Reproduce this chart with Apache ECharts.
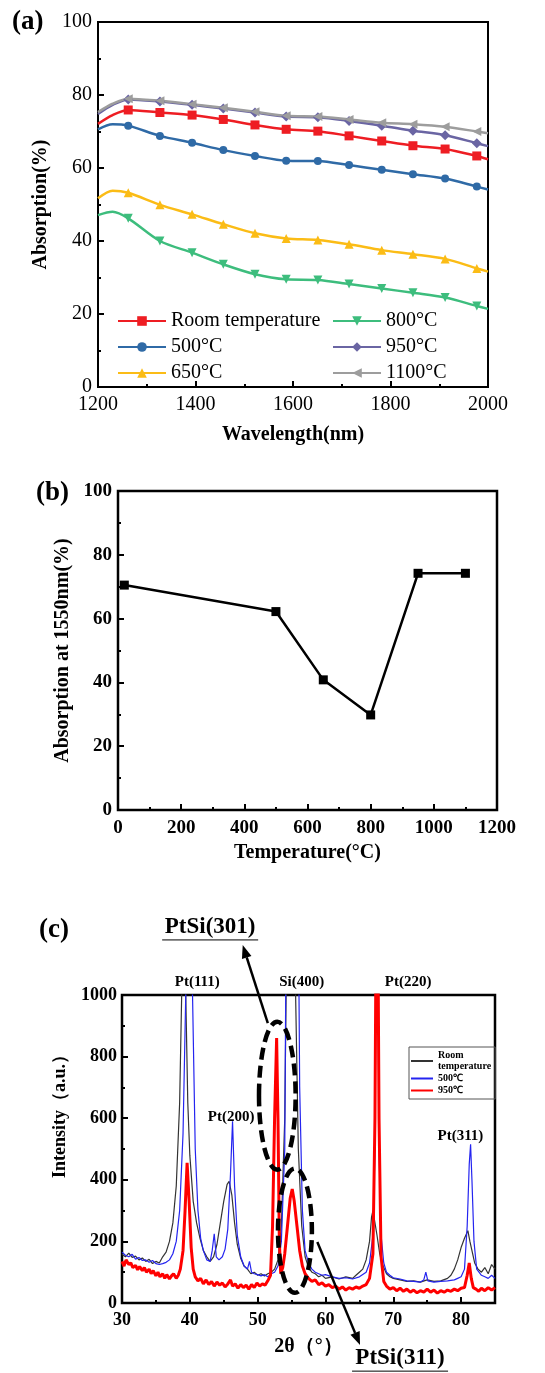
<!DOCTYPE html>
<html>
<head>
<meta charset="utf-8">
<script src="https://cdn.jsdelivr.net/npm/echarts@6/dist/echarts.min.js"></script>
<style>
  html, body { margin: 0; padding: 0; background: #fff; }
  #chart { width: 545px; height: 1373px; }
</style>
</head>
<body>
<div id="chart"></div>
<script>
// (a) absorption spectra
const wavelengths = [1200, 1230, 1262, 1327, 1393, 1457, 1522, 1586, 1651, 1715, 1782, 1846, 1912, 1977, 2000];
const unmarkedWavelengths = [1200, 1230, 2000];
const absRoom = [72.1, 74.5, 75.9, 75.2, 74.5, 73.3, 71.8, 70.6, 70.1, 68.8, 67.4, 66.1, 65.2, 63.3, 62.4];
const abs500 = [70.6, 72.0, 71.6, 68.8, 66.9, 64.9, 63.3, 62.0, 61.9, 60.8, 59.5, 58.3, 57.1, 54.9, 54.1];
const abs650 = [51.7, 53.8, 53.2, 49.9, 47.3, 44.6, 42.1, 40.7, 40.3, 39.1, 37.5, 36.4, 35.1, 32.5, 31.6];
const abs800 = [47.1, 48.0, 46.2, 40.0, 36.8, 33.6, 30.9, 29.5, 29.3, 28.2, 27.0, 25.8, 24.5, 22.2, 21.4];
const abs950 = [74.8, 77.3, 78.8, 78.2, 77.3, 76.3, 75.2, 74.1, 73.9, 72.9, 71.6, 70.2, 69.0, 66.8, 66.0];
const abs1100 = [75.3, 77.6, 79.0, 78.4, 77.5, 76.5, 75.4, 74.3, 74.1, 73.3, 72.4, 72.0, 71.3, 70.0, 69.5];

// (b) absorption at 1550 nm vs annealing temperature
const anneal = [20, 500, 650, 800, 950, 1100];
const abs1550 = [70.5, 62.2, 40.8, 29.8, 74.2, 74.2];

// (c) XRD, [2theta, intensity]
const xrdRoom = [
  [30,158],[30.5,150],[31,162],[31.5,148],[32,152],[32.5,140],[33,146],[33.5,135],[34,142],[34.5,128],
  [35,135],[35.5,130],[36,150],[36.5,165],[37,200],[37.5,260],[38,380],[38.5,650],[38.8,1000],[39.1,1600],
  [39.4,1000],[39.7,650],[40,480],[40.5,330],[41,260],[41.5,210],[42,170],[42.5,150],[43,135],[43.5,150],
  [44,190],[44.5,260],[45,330],[45.5,385],[45.8,395],[46.2,350],[46.6,260],[47,190],[47.5,145],[48,120],
  [48.5,110],[49,95],[49.5,100],[50,90],[50.5,95],[51,88],[51.5,95],[52,100],[52.5,110],[53,140],
  [53.5,250],[54,600],[54.6,1800],[55.2,1800],[55.6,1000],[56,500],[56.5,250],[57,150],[57.5,115],[58,100],
  [58.5,95],[59,85],[59.5,90],[60,80],[61,85],[62,78],[63,85],[64,80],[64.5,90],[65,100],
  [65.5,110],[66,140],[66.5,200],[66.8,280],[67,300],[67.3,260],[67.6,220],[68,160],[68.5,120],[69,95],
  [69.5,85],[70,80],[71,75],[72,70],[73,72],[74,68],[75,75],[76,70],[77,72],[78,80],
  [78.5,90],[79,110],[79.5,140],[80,180],[80.5,210],[81,235],[81.3,200],[81.7,160],[82,130],[82.5,110],
  [83,100],[83.5,115],[84,95],[84.5,125],[85,110]
];
const xrd500 = [
  [30,165],[30.5,155],[31,150],[31.5,158],[32,142],[32.5,148],[33,138],[33.5,140],[34,132],[34.5,138],
  [35,128],[35.5,125],[36,128],[36.5,132],[37,140],[37.5,160],[38,200],[38.5,300],[39,550],[39.4,1000],
  [39.9,1700],[40.4,1000],[40.8,500],[41.2,300],[41.6,210],[42,170],[42.5,140],[43,135],[43.3,170],[43.6,225],
  [43.9,150],[44.3,140],[44.8,150],[45.2,175],[45.6,240],[46,420],[46.3,590],[46.6,380],[47,220],[47.5,150],
  [48,120],[48.5,110],[48.8,135],[49.1,100],[49.5,95],[50,92],[50.5,88],[51,92],[51.5,85],[52,95],
  [52.5,100],[53,120],[53.5,200],[54,500],[54.3,1600],[55.9,1600],[56.2,700],[56.6,300],[57,170],[57.5,130],
  [58,110],[58.5,100],[59,95],[59.5,90],[60,92],[61,85],[62,80],[63,82],[64,78],[65,85],
  [66,100],[66.5,130],[67,220],[67.3,500],[67.6,1600],[67.9,500],[68.2,220],[68.6,130],[69,100],[69.5,90],
  [70,82],[71,78],[72,72],[73,70],[74,68],[74.5,75],[74.8,100],[75.1,72],[76,68],[77,70],
  [78,72],[79,75],[79.5,80],[80,85],[80.5,110],[80.9,250],[81.2,450],[81.4,515],[81.6,400],[81.9,200],
  [82.3,110],[83,90],[83.5,85],[84,80],[84.5,90],[85,80]
];
const xrd950 = [
  [30,135],[30.3,120],[30.6,140],[31,125],[31.3,130],[31.6,115],[32,122],[32.3,108],[32.6,118],[33,105],
  [33.3,115],[33.6,100],[34,110],[34.3,95],[34.6,105],[35,88],[35.3,100],[35.6,85],[36,95],[36.3,80],
  [36.6,92],[37,78],[37.3,88],[37.6,95],[38,80],[38.3,90],[38.6,110],[39,170],[39.3,300],[39.6,455],
  [39.9,330],[40.2,180],[40.5,110],[40.8,85],[41.2,72],[41.6,80],[42,62],[42.4,75],[42.8,60],[43.2,70],
  [43.6,55],[44,68],[44.4,58],[44.8,65],[45.2,52],[45.6,62],[46,75],[46.3,55],[46.7,62],[47.1,48],
  [47.5,60],[47.9,50],[48.3,58],[48.7,45],[49.1,60],[49.5,50],[49.9,65],[50.3,55],[50.7,62],[51.1,58],
  [51.5,72],[51.9,90],[52.2,250],[52.5,600],[52.8,860],[53,600],[53.2,200],[53.4,95],[53.7,115],[54,160],
  [54.4,250],[54.8,340],[55.1,370],[55.4,330],[55.8,250],[56.2,170],[56.6,120],[57,95],[57.5,80],[58,70],
  [58.5,75],[59,60],[59.5,65],[60,55],[60.5,60],[61,50],[61.5,55],[62,45],[62.5,52],[63,42],
  [63.5,50],[64,45],[64.5,52],[65,48],[65.5,55],[66,60],[66.5,80],[67,160],[67.3,600],[67.6,1700],
  [67.9,600],[68.2,150],[68.6,70],[69,55],[69.5,45],[70,50],[70.5,40],[71,48],[71.5,38],[72,45],
  [72.5,35],[73,42],[73.5,33],[74,40],[74.5,35],[75,45],[75.5,35],[76,42],[76.5,32],[77,40],
  [77.5,35],[78,42],[78.5,38],[79,45],[79.5,40],[80,48],[80.5,50],[80.9,90],[81.2,130],[81.5,80],
  [81.8,50],[82.2,45],[82.6,38],[83,48],[83.5,40],[84,50],[84.5,42],[85,50]
];

// (c) annotations, in data coordinates
const peakLabels = [
  ["Pt(111)", 41.1, 1042], ["Si(400)", 56.5, 1042], ["Pt(220)", 72.2, 1042],
  ["Pt(200)", 46.1, 605], ["Pt(311)", 79.9, 541]
];
const phaseLabels = [["PtSi(301)", 43.0, 1221], ["PtSi(311)", 71.0, -179]];
const phaseEllipses = [[52.9, 673, 2.7, 240], [55.5, 235, 2.5, 202]];
const phaseArrows = [[[51.5, 909], [47.8, 1162]], [[58.8, 198], [65.1, -136]]];

const SERIF = "Liberation Serif, Times New Roman, serif";
const BLACK = "#000";

function axis(gridIndex, min, max, interval, o) {
  return {
    gridIndex: gridIndex,
    type: "value",
    min: min,
    max: max,
    interval: interval,
    splitLine: { show: false },
    axisLine: { onZero: false, lineStyle: { color: BLACK, width: 2 } },
    axisTick: { inside: true, length: 6, lineStyle: { color: BLACK, width: 2 } },
    minorTick: { show: true, splitNumber: 2, length: 3, lineStyle: { color: BLACK, width: 2 } },
    axisLabel: {
      color: BLACK,
      fontFamily: SERIF,
      fontSize: o.fontSize,
      fontWeight: o.bold ? "bold" : "normal",
      margin: o.margin,
      showMaxLabel: o.showMax !== false,
      formatter: (v) => String(v),
    },
    name: o.name,
    nameLocation: "middle",
    nameGap: o.nameGap,
    nameTextStyle: { color: BLACK, fontFamily: SERIF, fontWeight: "bold", fontSize: 20 },
  };
}

function spectrum(name, values, color, symbol, size, rotate) {
  return {
    type: "line",
    name: name,
    xAxisIndex: 0,
    yAxisIndex: 0,
    smooth: 0.3,
    symbol: symbol,
    symbolSize: size,
    symbolRotate: rotate || 0,
    lineStyle: { color: color, width: 2.5 },
    itemStyle: { color: color },
    data: wavelengths.map((w, i) =>
      unmarkedWavelengths.includes(w)
        ? { value: [w, values[i]], symbol: "none" }
        : [w, values[i]]
    ),
  };
}

function xrd(name, data, color, width) {
  return {
    type: "line",
    name: name,
    xAxisIndex: 2,
    yAxisIndex: 2,
    symbol: "none",
    clip: true,
    lineStyle: { color: color, width: width },
    itemStyle: { color: color },
    data: data,
  };
}

const legendText = { color: BLACK, fontFamily: SERIF, fontSize: 20 };

const option = {
  animation: false,
  backgroundColor: "#fff",
  grid: [
    { left: 98, top: 22, width: 390, height: 365, show: true, borderColor: BLACK, borderWidth: 2 },
    { left: 118, top: 491, width: 379, height: 319, show: true, borderColor: BLACK, borderWidth: 2.5 },
    { left: 122, top: 995, width: 373, height: 308, show: true, borderColor: BLACK, borderWidth: 2.5 },
  ],
  xAxis: [
    axis(0, 1200, 2000, 200, { fontSize: 20, margin: 8, name: "Wavelength(nm)", nameGap: 38 }),
    axis(1, 0, 1200, 200, { fontSize: 19, bold: true, margin: 9, name: "Temperature(°C)", nameGap: 33 }),
    axis(2, 30, 85, 10, { fontSize: 18, bold: true, margin: 8, name: "2θ（°）", nameGap: 34, showMax: false }),
  ],
  yAxis: [
    axis(0, 0, 100, 20, { fontSize: 20, margin: 6, name: "Absorption(%)", nameGap: 40 }),
    axis(1, 0, 100, 20, { fontSize: 19, bold: true, margin: 6, name: "Absorption at 1550nm(%)", nameGap: 38 }),
    axis(2, 0, 1000, 200, { fontSize: 18, bold: true, margin: 5, name: "" }),
  ],
  legend: [
    {
      data: ["Room temperature", "500°C", "650°C"],
      left: 112, top: 306, orient: "vertical", itemGap: 6,
      itemWidth: 48, itemHeight: 12, selectedMode: false,
      textStyle: legendText,
    },
    {
      data: ["800°C", "950°C", "1100°C"],
      left: 327, top: 306, orient: "vertical", itemGap: 6,
      itemWidth: 48, itemHeight: 12, selectedMode: false,
      textStyle: legendText,
    },
    {
      data: ["Room\ntemperature", "500℃", "950℃"],
      left: 409, top: 1047, orient: "vertical", itemGap: 1,
      itemWidth: 22, itemHeight: 4, selectedMode: false,
      itemStyle: { opacity: 0, borderWidth: 0 },
      padding: [3, 4, 3, 1],
      borderColor: "#555", borderWidth: 1,
      textStyle: { color: BLACK, fontFamily: SERIF, fontWeight: "bold", fontSize: 10, lineHeight: 11 },
    },
  ],
  series: [
    spectrum("Room temperature", absRoom, "#ee1d23", "rect", 9),
    spectrum("500°C", abs500, "#2f6aa6", "circle", 8),
    spectrum("650°C", abs650, "#fbbc16", "triangle", 9),
    spectrum("800°C", abs800, "#3dbd7d", "triangle", 9, 180),
    spectrum("950°C", abs950, "#6a65a3", "diamond", 10),
    spectrum("1100°C", abs1100, "#9d9d9d", "triangle", 9, 90),
    {
      type: "line",
      name: "b",
      xAxisIndex: 1,
      yAxisIndex: 1,
      symbol: "rect",
      symbolSize: 9,
      lineStyle: { color: BLACK, width: 2.5 },
      itemStyle: { color: BLACK },
      data: anneal.map((t, i) => [t, abs1550[i]]),
    },
    xrd("Room\ntemperature", xrdRoom, "#333", 1.2),
    xrd("500℃", xrd500, "#2424f0", 1.2),
    xrd("950℃", xrd950, "#f00", 3),
  ],
};

const chart = echarts.init(document.getElementById("chart"));
chart.setOption(option);

// annotations
const toPx = (p) => chart.convertToPixel({ gridIndex: 2 }, p);
const graphics = [];

function letter(txt, x, y) {
  graphics.push({
    type: "text", x: x, y: y,
    style: { text: txt, fill: BLACK, font: "bold 27px " + SERIF, textVerticalAlign: "middle" },
  });
}
letter("(a)", 12, 22);
letter("(b)", 36, 493);
letter("(c)", 39, 930);

graphics.push({
  type: "text", x: 60, y: 1112, rotation: Math.PI / 2,
  style: {
    text: "Intensity（a.u.）", fill: BLACK, font: "bold 18px " + SERIF,
    textAlign: "center", textVerticalAlign: "middle",
  },
});

peakLabels.forEach(([txt, x, y]) => {
  const p = toPx([x, y]);
  graphics.push({
    type: "text", x: p[0], y: p[1],
    style: { text: txt, fill: BLACK, font: "bold 15px " + SERIF, textAlign: "center", textVerticalAlign: "middle" },
  });
});

phaseLabels.forEach(([txt, x, y]) => {
  const p = toPx([x, y]);
  graphics.push({
    type: "text", x: p[0], y: p[1],
    style: { text: txt, fill: BLACK, font: "bold 23px " + SERIF, textAlign: "center", textVerticalAlign: "middle" },
  });
  graphics.push({
    type: "line",
    shape: { x1: p[0] - 48, y1: p[1] + 13, x2: p[0] + 48, y2: p[1] + 13 },
    style: { stroke: BLACK, lineWidth: 1 },
  });
});

phaseEllipses.forEach(([cx, cy, rx, ry]) => {
  const c = toPx([cx, cy]);
  const e = toPx([cx + rx, cy + ry]);
  graphics.push({
    type: "ellipse",
    z: 100,
    shape: { cx: c[0], cy: c[1], rx: Math.abs(e[0] - c[0]), ry: Math.abs(e[1] - c[1]) },
    style: { fill: null, stroke: BLACK, lineWidth: 4.5, lineDash: [12, 6] },
  });
});

phaseArrows.forEach(([from, to]) => {
  const a = toPx(from);
  const b = toPx(to);
  const dx = b[0] - a[0];
  const dy = b[1] - a[1];
  const len = Math.hypot(dx, dy);
  const ux = dx / len;
  const uy = dy / len;
  const head = 13;
  const half = 5;
  const base = [b[0] - ux * head, b[1] - uy * head];
  graphics.push({
    type: "line", z: 100,
    shape: { x1: a[0], y1: a[1], x2: base[0], y2: base[1] },
    style: { stroke: BLACK, lineWidth: 2.5 },
  });
  graphics.push({
    type: "polygon", z: 100,
    shape: { points: [b, [base[0] - uy * half, base[1] + ux * half], [base[0] + uy * half, base[1] - ux * half]] },
    style: { fill: BLACK },
  });
});

chart.setOption({ graphic: graphics });
</script>
</body>
</html>
